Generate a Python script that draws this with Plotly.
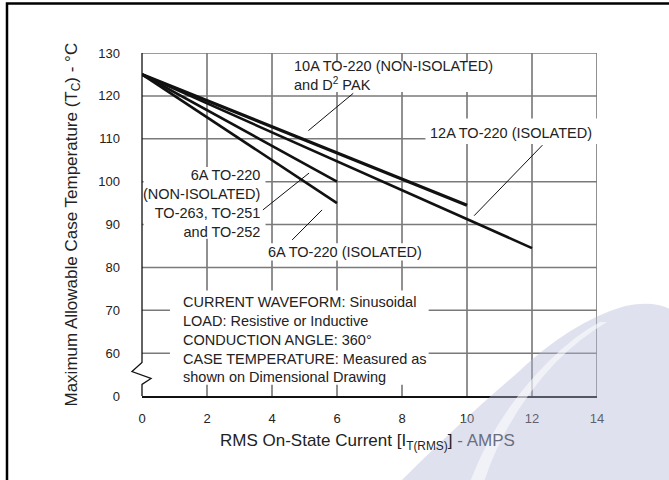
import plotly.graph_objects as go

# ---------------- data ----------------
current_10A = [0, 10]
temp_10A = [125, 94.5]
current_12A = [0, 12]
temp_12A = [125, 84.5]
current_6A_noniso = [0, 6]
temp_6A_noniso = [125, 100]
current_6A_iso = [0, 6]
temp_6A_iso = [125, 95]

x_ticks = [0, 2, 4, 6, 8, 10, 12, 14]
y_tickvals = [50, 60, 70, 80, 90, 100, 110, 120, 130]
y_ticktext = ["0", "60", "70", "80", "90", "100", "110", "120", "130"]
axis_break = [57.8, 55.7, 54.1, 52.7]  # axis-break zigzag (axis units)

FONT = "Liberation Sans, Arial, Helvetica, sans-serif"
TXT = "#222222"

W, H = 669, 480
ML, MR, MT, MB = 142, 72, 53, 84
PW, PH = W - ML - MR, H - MT - MB


def pp(px, py):
    """pixel -> paper coords string"""
    return f"{(px - ML) / PW:.4f},{(H - MB - py) / PH:.4f}"


fig = go.Figure()

line_specs = [
    (current_10A, temp_10A, 3.2),
    (current_12A, temp_12A, 2.6),
    (current_6A_noniso, temp_6A_noniso, 2.6),
    (current_6A_iso, temp_6A_iso, 2.6),
]
for xs, ys, w in line_specs:
    fig.add_trace(go.Scatter(x=xs, y=ys, mode="lines",
                             line=dict(color="#111111", width=w),
                             showlegend=False, hoverinfo="skip"))

shapes = []
# grid (drawn manually so the axis break stays open)
for xv in x_ticks[1:]:
    shapes.append(dict(type="line", xref="x", yref="y", x0=xv, x1=xv,
                       y0=y_tickvals[0], y1=y_tickvals[-1], layer="below",
                       line=dict(color="#222222", width=1)))
for yv in y_tickvals[1:]:
    shapes.append(dict(type="line", xref="x", yref="y", x0=0, x1=14,
                       y0=yv, y1=yv, layer="below",
                       line=dict(color="#7a7a7a", width=1.5)))

# white boxes behind labels (break the grid)
boxes = [
    (4.45, 11.1, 120.9, 128.0),
    (8.72, 14.3, 108.8, 114.7),
    (0.05, 3.8, 86.7, 103.4),
    (3.78, 8.76, 81.6, 85.6),
    (0.86, 8.82, 52.6, 74.6),
]
for x0, x1, y0, y1 in boxes:
    shapes.append(dict(type="rect", xref="x", yref="y", x0=x0, x1=x1,
                       y0=y0, y1=y1, layer="below",
                       fillcolor="white", line=dict(width=0)))

# leader lines
leaders = [
    (6.50, 120.6, 5.12, 111.9),
    (12.32, 108.5, 10.22, 92.05),
    (3.72, 93.4, 5.14, 102.0),
    (4.62, 86.4, 5.54, 93.4),
]
for x0, y0, x1, y1 in leaders:
    shapes.append(dict(type="line", xref="x", yref="y", x0=x0, y0=y0,
                       x1=x1, y1=y1, layer="above",
                       line=dict(color="#111111", width=1)))

# left axis with zigzag break
zx = [0, -10 / PW, 9 / PW, 0]
path = (f"M 0,{y_tickvals[-1]} L 0,{axis_break[0]} "
        f"L {zx[1]:.4f},{axis_break[1]} L {zx[2]:.4f},{axis_break[2]} "
        f"L 0,{axis_break[3]} L 0,{y_tickvals[0]}")
shapes.append(dict(type="path", xref="paper", yref="y", path=path,
                   layer="above", line=dict(color="#111111", width=1.3)))

# outer frame (top + left)
shapes.append(dict(type="path", xref="paper", yref="paper",
                   path=f"M {pp(7, 482)} L {pp(7, 3.5)} L {pp(672, 3.5)}",
                   line=dict(color="#000000", width=2.5), layer="above"))

# watermark swoosh
blob = (f"M {pp(400, 482)} Q {pp(462, 420)} {pp(515, 375)} "
        f"Q {pp(570, 322)} {pp(625, 306)} Q {pp(655, 300)} {pp(672, 310)} "
        f"L {pp(672, 482)} Z")
shapes.append(dict(type="path", xref="paper", yref="paper", path=blob,
                   fillcolor="rgba(178,186,214,0.42)", line=dict(width=0),
                   layer="above"))
hl = (f"M {pp(470, 482)} Q {pp(495, 415)} {pp(548, 362)} "
      f"Q {pp(575, 335)} {pp(600, 322)} L {pp(607, 322)} "
      f"Q {pp(580, 338)} {pp(556, 362)} Q {pp(506, 415)} {pp(484, 482)} Z")
shapes.append(dict(type="path", xref="paper", yref="paper", path=hl,
                   fillcolor="rgba(255,255,255,0.55)", line=dict(width=0),
                   layer="above"))

ann_font = dict(family=FONT, size=14.5, color=TXT)
annotations = [
    dict(x=4.62, y=124.66, xanchor="left", yanchor="middle", align="left",
         text="10A TO-220 (NON-ISOLATED)<br>and D<sup>2</sup> PAK"),
    dict(x=11.35, y=111.4, xanchor="center", yanchor="middle",
         text="12A TO-220 (ISOLATED)"),
    dict(x=3.68, y=95.0, xanchor="right", yanchor="middle", align="right",
         text="6A TO-220<br>(NON-ISOLATED)<br>TO-263, TO-251<br>and TO-252"),
    dict(x=6.26, y=83.65, xanchor="center", yanchor="middle",
         text="6A TO-220 (ISOLATED)"),
    dict(x=1.2, y=63.25, xanchor="left", yanchor="middle", align="left",
         text="CURRENT WAVEFORM: Sinusoidal<br>LOAD: Resistive or Inductive"
              "<br>CONDUCTION ANGLE: 360°<br>CASE TEMPERATURE: Measured as"
              "<br>shown on Dimensional Drawing"),
]
for a in annotations:
    a.update(xref="x", yref="y", showarrow=False, font=ann_font)

# axis titles
annotations.append(dict(
    xref="paper", yref="paper", x=(367 - ML) / PW, y=(H - MB - 441.7) / PH,
    xanchor="center", yanchor="middle", showarrow=False,
    font=dict(family=FONT, size=17, color=TXT),
    text="RMS On-State Current [I<sub>T(RMS)</sub>]"
         "<span style='color:#6a6e80'> - AMPS</span>"))
annotations.append(dict(
    xref="paper", yref="paper", x=(72 - ML) / PW, y=0.5,
    xanchor="center", yanchor="middle", showarrow=False, textangle=-90,
    font=dict(family=FONT, size=17, color=TXT),
    text="Maximum Allowable Case Temperature (T<sub>C</sub>) - °C"))

fig.update_layout(
    width=W, height=H,
    margin=dict(l=ML, r=MR, t=MT, b=MB, pad=0),
    paper_bgcolor="white", plot_bgcolor="white",
    showlegend=False,
    shapes=shapes, annotations=annotations,
    font=dict(family=FONT, color=TXT),
    xaxis=dict(range=[0, 14], tickvals=x_ticks, showgrid=False,
               zeroline=False, showline=True, linecolor="#111111",
               linewidth=1.5, ticks="", ticklabelstandoff=10,
               tickfont=dict(family=FONT, size=13, color=TXT), fixedrange=True),
    yaxis=dict(range=[50, 130], tickvals=y_tickvals, ticktext=y_ticktext,
               showgrid=False, zeroline=False, showline=False, ticks="",
               ticklabelstandoff=21,
               tickfont=dict(family=FONT, size=13, color=TXT), fixedrange=True),
)

fig.write_html("out.html",
               config={"displayModeBar": False, "staticPlot": True},
               post_script="document.body.style.margin='0';"
                           "document.body.style.overflow='hidden';")
